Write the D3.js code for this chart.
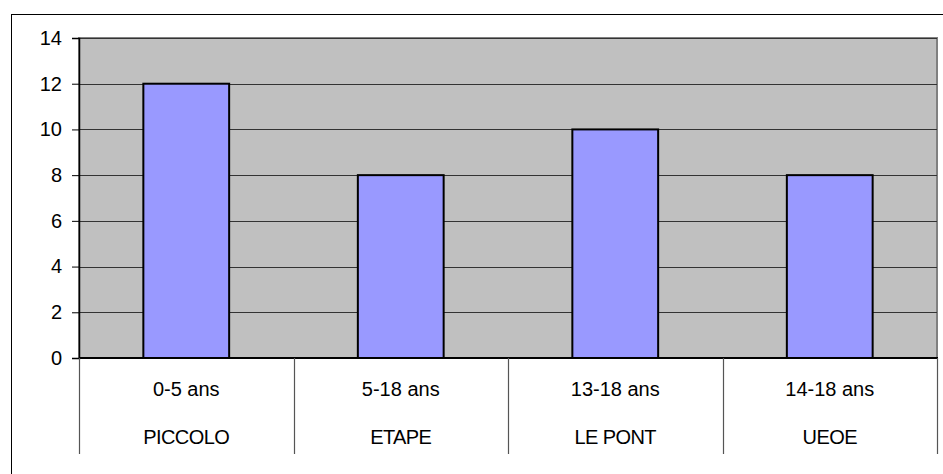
<!DOCTYPE html>
<html lang="fr">
<head>
<meta charset="utf-8">
<title>Effectifs par service</title>
<script src="https://d3js.org/d3.v7.min.js"></script>
<style>
  body { margin: 0; background: #fff; }
  text { font-family: "Liberation Sans", Arial, sans-serif; fill: #000; }
</style>
</head>
<body>
<div id="chart"></div>
<script>
var services = ["PICCOLO", "ETAPE", "LE PONT", "UEOE"];
var ages = ["0-5 ans", "5-18 ans", "13-18 ans", "14-18 ans"];
var values = [12, 8, 10, 8];
var yTicks = [0, 2, 4, 6, 8, 10, 12, 14];

var width = 943, height = 474;
var plot = {left: 79, top: 38, right: 937, bottom: 358};

var svg = d3.select("#chart").append("svg")
    .attr("width", width)
    .attr("height", height);

// outer frame
svg.append("rect")
    .attr("x", 11.5).attr("y", 14.5)
    .attr("width", 940).attr("height", 480)
    .attr("fill", "none").attr("stroke", "#000").attr("stroke-width", 1);

var x = d3.scaleBand()
    .domain(d3.range(services.length))
    .range([plot.left, plot.right])
    .paddingInner(0.6).paddingOuter(0.3);

var xCat = d3.scaleBand()
    .domain(d3.range(services.length))
    .range([plot.left, plot.right]);

var y = d3.scaleLinear().domain([0, 14]).range([plot.bottom, plot.top]);

// plot background
svg.append("rect")
    .attr("x", plot.left).attr("y", plot.top)
    .attr("width", plot.right - plot.left).attr("height", plot.bottom - plot.top)
    .attr("fill", "#c0c0c0")
    .attr("stroke", "#808080").attr("stroke-width", 2);

// gridlines
svg.append("g").selectAll("line")
    .data(yTicks.filter(function(d) { return d > 0; }))
    .enter().append("line")
    .attr("x1", plot.left).attr("x2", plot.right)
    .attr("y1", function(d) { return Math.round(y(d)) + 0.5; })
    .attr("y2", function(d) { return Math.round(y(d)) + 0.5; })
    .attr("stroke", "#333").attr("stroke-width", 1);

// y axis
var yAxis = svg.append("g")
    .attr("transform", "translate(" + plot.left + ",0)")
    .call(d3.axisLeft(y).tickValues(yTicks).tickSize(7).tickPadding(10));
yAxis.select(".domain").attr("stroke", "#000").attr("stroke-width", 1.5);
yAxis.selectAll(".tick line").attr("stroke", "#000");
yAxis.selectAll("text")
    .style("font-size", "20px")
    .style("font-family", "Liberation Sans, Arial, sans-serif");

// bars
svg.append("g").selectAll("rect")
    .data(values)
    .enter().append("rect")
    .attr("x", function(d, i) { return x(i); })
    .attr("y", function(d) { return y(d); })
    .attr("width", x.bandwidth())
    .attr("height", function(d) { return y(0) - y(d); })
    .attr("fill", "#9999ff")
    .attr("stroke", "#000").attr("stroke-width", 2);

// baseline
svg.append("line")
    .attr("x1", plot.left).attr("x2", plot.right + 1)
    .attr("y1", plot.bottom).attr("y2", plot.bottom)
    .attr("stroke", "#000").attr("stroke-width", 2);

// category dividers
var divs = d3.range(services.length + 1).map(function(i) {
  return i < services.length ? xCat(i) : plot.right;
});
svg.append("g").selectAll("line")
    .data(divs)
    .enter().append("line")
    .attr("x1", function(d) { return Math.round(d) + 0.5; })
    .attr("x2", function(d) { return Math.round(d) + 0.5; })
    .attr("y1", plot.bottom).attr("y2", 454)
    .attr("stroke", "#555").attr("stroke-width", 1.2);

// category labels (two levels)
var labels = svg.append("g");
labels.selectAll("text.age")
    .data(ages)
    .enter().append("text")
    .attr("class", "age")
    .attr("x", function(d, i) { return xCat(i) + xCat.bandwidth() / 2; })
    .attr("y", 396)
    .attr("text-anchor", "middle")
    .style("font-size", "20px")
    .text(function(d) { return d; });

labels.selectAll("text.svc")
    .data(services)
    .enter().append("text")
    .attr("class", "svc")
    .attr("x", function(d, i) { return xCat(i) + xCat.bandwidth() / 2; })
    .attr("y", 444)
    .attr("text-anchor", "middle")
    .style("font-size", "20px")
    .style("letter-spacing", "-0.6px")
    .text(function(d) { return d; });
</script>
</body>
</html>
